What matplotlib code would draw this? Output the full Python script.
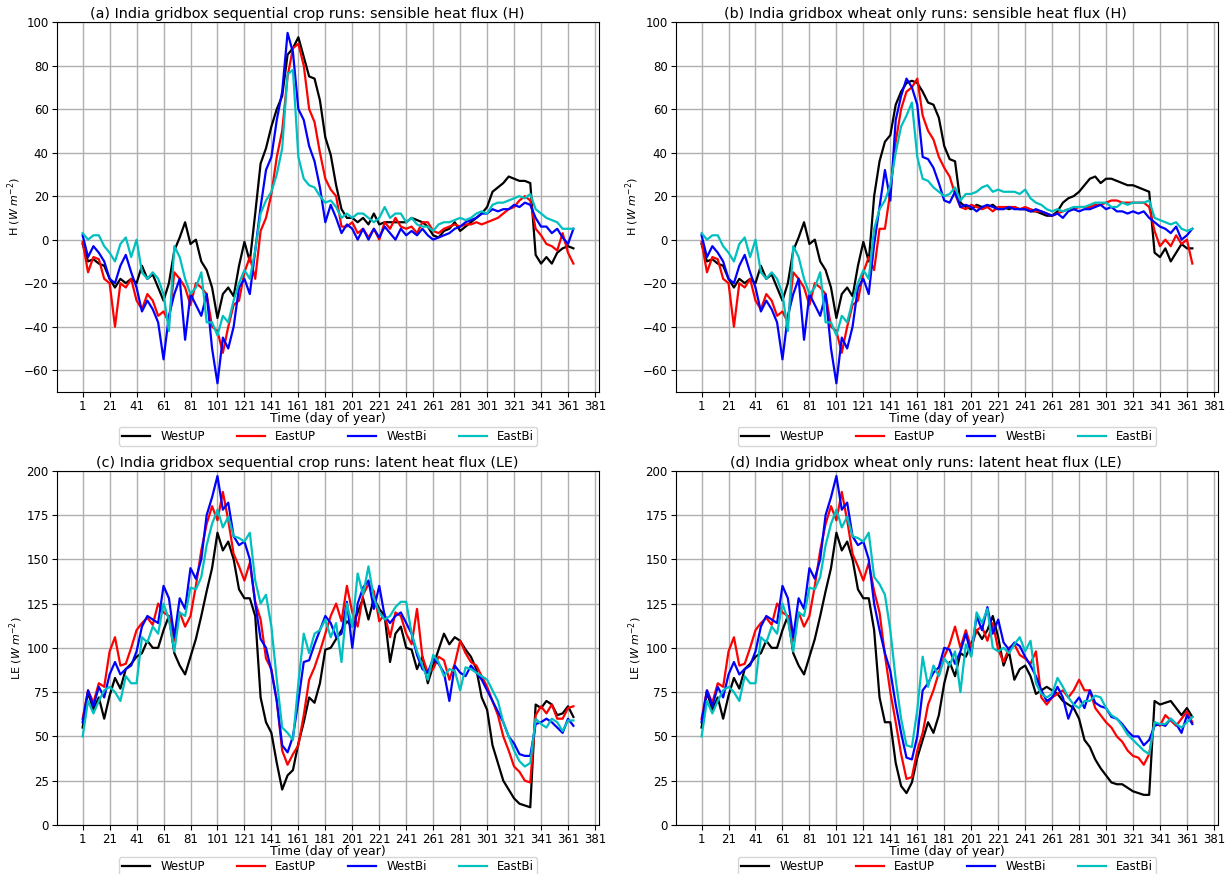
import numpy as np
import matplotlib.pyplot as plt

# Daily fluxes sampled every 4th day of the year (1, 5, ..., 365)
days = np.arange(1, 366, 4)
names = ['WestUP', 'EastUP', 'WestBi', 'EastBi']
colours = ['k', 'r', 'b', 'c']

# --- Sensible heat flux H (W m-2) ---
# days 1-125 are the same in both sets of runs
h_early_westup = [-2, -10, -9, -11, -12, -18, -22, -18, -20, -18, -20, -12, -18, -16, -22, -28,
                  -20, -5, 1, 8, -2, 0, -10, -14, -22, -36, -25, -22, -26, -12, -1, -10]
h_early_eastup = [-1, -15, -8, -9, -18, -20, -40, -20, -22, -18, -28, -32, -25, -28, -35, -33,
                  -38, -15, -18, -22, -30, -20, -22, -25, -40, -42, -52, -40, -30, -28, -15, -8]
h_early_westbi = [2, -8, -3, -6, -10, -18, -20, -12, -7, -15, -22, -33, -28, -32, -38, -55,
                  -35, -25, -18, -46, -25, -30, -35, -25, -50, -66, -45, -50, -40, -22, -18, -25]
h_early_eastbi = [3, 0, 2, 2, -3, -6, -10, -2, 1, -8, 0, -15, -18, -15, -18, -25,
                  -42, -3, -8, -18, -25, -22, -15, -38, -38, -44, -35, -38, -28, -20, -14, -18]

# days 129-365, sequential crop runs
h_seq_westup = [12, 35, 42, 52, 60, 66, 85, 88, 93, 84, 75, 74, 64, 47, 39, 25, 14, 10, 10, 8,
                10, 7, 12, 7, 8, 8, 8, 8, 8, 10, 9, 8, 6, 2, 1, 4, 5, 8, 4, 6,
                8, 10, 12, 15, 22, 24, 26, 29, 28, 27, 27, 26, -7, -11, -8, -11, -6, -4, -3, -4]
h_seq_eastup = [-18, 4, 10, 21, 38, 50, 75, 88, 90, 80, 60, 54, 40, 28, 23, 20, 6, 6, 8, 3,
                5, 1, 5, 0, 8, 5, 10, 6, 5, 6, 3, 8, 8, 4, 3, 5, 6, 7, 6, 7,
                7, 8, 7, 8, 9, 10, 12, 14, 15, 18, 20, 18, 5, 2, -2, -3, -5, 3, -6, -11]
h_seq_westbi = [-5, 15, 32, 38, 55, 68, 95, 86, 60, 55, 43, 36, 24, 8, 16, 10, 3, 7, 5, 0,
                5, 0, 5, 1, 6, 3, 0, 5, 2, 4, 2, 5, 2, 0, 1, 2, 3, 5, 6, 8,
                9, 10, 12, 12, 14, 13, 14, 14, 16, 15, 17, 16, 10, 6, 6, 3, 5, 1, -2, 5]
h_seq_eastbi = [-5, 12, 18, 22, 30, 42, 76, 78, 38, 28, 25, 24, 20, 17, 18, 15, 10, 12, 10, 12,
                12, 10, 8, 10, 15, 10, 12, 12, 8, 10, 7, 6, 6, 4, 7, 8, 8, 9, 10, 9,
                10, 12, 13, 12, 16, 17, 17, 18, 19, 20, 19, 21, 14, 12, 10, 9, 8, 5, 5, 5]

# days 129-365, wheat only runs
h_wht_westup = [20, 36, 45, 48, 62, 68, 72, 73, 72, 68, 63, 62, 56, 43, 37, 36, 17, 15, 14, 16,
                15, 15, 16, 14, 15, 14, 15, 14, 14, 13, 13, 12, 11, 11, 13, 17, 19, 20, 22, 25,
                28, 29, 26, 28, 28, 27, 26, 25, 25, 24, 23, 22, -6, -8, -4, -10, -6, -2, -4, -4]
h_wht_eastup = [-14, 5, 5, 22, 45, 60, 68, 70, 74, 57, 50, 46, 38, 33, 29, 21, 15, 14, 16, 15,
                14, 15, 13, 15, 15, 15, 15, 14, 15, 14, 13, 13, 12, 11, 12, 13, 14, 14, 15, 15,
                15, 16, 16, 17, 18, 18, 17, 17, 17, 17, 17, 15, 4, -3, 0, -3, 2, -2, 0, -11]
h_wht_westbi = [-2, 15, 32, 18, 55, 66, 74, 70, 62, 38, 37, 33, 26, 18, 17, 22, 15, 16, 15, 13,
                15, 16, 15, 14, 14, 15, 14, 14, 14, 13, 14, 13, 12, 11, 12, 10, 13, 14, 13, 14,
                14, 15, 16, 14, 15, 13, 13, 12, 13, 12, 13, 10, 8, 6, 5, 3, 6, 0, 2, 5]
h_wht_eastbi = [5, 14, 18, 25, 40, 52, 57, 63, 38, 28, 27, 24, 22, 20, 21, 24, 18, 21, 21, 22,
                24, 25, 22, 23, 22, 22, 22, 21, 23, 19, 17, 16, 14, 13, 14, 13, 14, 15, 15, 15,
                16, 17, 17, 17, 15, 15, 17, 16, 17, 17, 17, 18, 10, 9, 8, 7, 8, 5, 4, 5]

# --- Latent heat flux LE (W m-2) ---
le_early_westup = [55, 75, 65, 72, 60, 73, 83, 77, 88, 91, 95, 97, 104, 100, 100, 110,
                   118, 97, 90, 85, 95, 105, 118, 132, 145, 165, 155, 160, 150, 133, 128, 128]
le_early_eastup = [60, 76, 69, 80, 78, 98, 106, 90, 91, 100, 110, 114, 117, 113, 125, 120,
                   118, 104, 120, 112, 118, 135, 155, 170, 180, 172, 188, 172, 153, 146, 138, 148]
le_early_westbi = [58, 76, 67, 78, 72, 85, 92, 85, 88, 90, 98, 112, 118, 116, 114, 135,
                   128, 106, 128, 122, 145, 139, 150, 175, 185, 197, 178, 182, 163, 158, 160, 150]
le_early_eastbi = [50, 70, 63, 70, 76, 78, 75, 70, 84, 80, 80, 106, 103, 112, 108, 125,
                   116, 98, 120, 118, 134, 133, 140, 158, 170, 178, 168, 174, 163, 162, 160, 165]

le_seq_westup = [118, 72, 58, 52, 35, 20, 28, 31, 46, 58, 72, 69, 80, 99, 100, 105, 110, 115, 112, 120,
                 128, 116, 128, 122, 118, 92, 108, 112, 100, 99, 88, 95, 80, 90, 99, 108, 102, 106, 104, 99,
                 95, 88, 72, 65, 45, 35, 25, 20, 15, 12, 11, 10, 68, 66, 70, 68, 62, 63, 67, 61]
le_seq_eastup = [126, 116, 94, 88, 70, 42, 34, 40, 45, 62, 82, 89, 98, 108, 118, 125, 115, 135, 120, 112,
                 130, 136, 132, 115, 119, 106, 120, 118, 108, 102, 122, 95, 86, 88, 95, 93, 82, 91, 104, 97,
                 92, 90, 84, 78, 70, 62, 50, 42, 33, 30, 25, 24, 62, 67, 63, 68, 60, 60, 66, 67]
le_seq_westbi = [125, 105, 100, 87, 70, 45, 41, 50, 70, 92, 93, 102, 110, 118, 114, 106, 108, 126, 100, 125,
                 134, 138, 122, 135, 118, 114, 118, 120, 114, 108, 96, 88, 86, 94, 91, 86, 70, 90, 86, 84,
                 90, 86, 82, 76, 70, 64, 58, 50, 46, 40, 39, 39, 57, 58, 60, 58, 55, 52, 60, 56]
le_seq_eastbi = [138, 125, 130, 112, 82, 55, 52, 48, 80, 108, 97, 108, 110, 116, 106, 114, 92, 125, 112, 142,
                 130, 146, 128, 120, 116, 118, 123, 126, 126, 108, 98, 90, 82, 96, 92, 84, 88, 87, 76, 89,
                 88, 86, 84, 82, 76, 70, 58, 50, 42, 36, 33, 35, 60, 57, 55, 60, 58, 53, 59, 59]

le_wht_westup = [110, 72, 58, 58, 35, 22, 18, 24, 38, 48, 58, 52, 62, 80, 92, 84, 97, 95, 102, 110,
                 105, 110, 118, 106, 90, 98, 82, 88, 90, 84, 74, 76, 78, 76, 74, 70, 68, 66, 60, 48,
                 44, 37, 32, 28, 24, 23, 23, 21, 19, 18, 17, 17, 70, 68, 69, 70, 66, 62, 66, 61]
le_wht_eastup = [132, 120, 96, 75, 58, 40, 26, 27, 42, 52, 68, 76, 86, 95, 102, 112, 100, 110, 100, 110,
                 112, 104, 114, 99, 92, 100, 102, 96, 94, 91, 98, 72, 68, 72, 74, 76, 72, 76, 82, 76,
                 76, 66, 62, 58, 55, 50, 47, 42, 39, 38, 34, 40, 58, 56, 62, 59, 56, 60, 64, 58]
le_wht_westbi = [125, 110, 97, 87, 68, 52, 38, 37, 50, 76, 80, 86, 89, 100, 99, 91, 98, 108, 96, 118,
                 110, 123, 108, 116, 103, 99, 103, 101, 95, 90, 84, 76, 70, 72, 78, 72, 60, 68, 72, 66,
                 76, 69, 67, 66, 61, 60, 57, 53, 50, 50, 45, 48, 56, 57, 56, 60, 57, 52, 62, 57]
le_wht_eastbi = [140, 136, 130, 110, 82, 60, 45, 44, 65, 95, 78, 90, 84, 94, 90, 98, 75, 102, 95, 120,
                 114, 122, 100, 98, 100, 97, 102, 106, 98, 104, 80, 74, 72, 74, 83, 78, 72, 68, 66, 70,
                 70, 73, 72, 66, 62, 60, 56, 51, 48, 45, 42, 40, 58, 57, 57, 60, 57, 55, 58, 61]

h_early = [h_early_westup, h_early_eastup, h_early_westbi, h_early_eastbi]
le_early = [le_early_westup, le_early_eastup, le_early_westbi, le_early_eastbi]
h_seq = [h_seq_westup, h_seq_eastup, h_seq_westbi, h_seq_eastbi]
h_wht = [h_wht_westup, h_wht_eastup, h_wht_westbi, h_wht_eastbi]
le_seq = [le_seq_westup, le_seq_eastup, le_seq_westbi, le_seq_eastbi]
le_wht = [le_wht_westup, le_wht_eastup, le_wht_westbi, le_wht_eastbi]


# Join the shared start of the year with the run specific remainder
def join_runs(early, late):
    return [np.array(e + l, dtype=float) for e, l in zip(early, late)]


def plot_panel(ax, series, ylim, yticks, ylabel, title, legend_y):
    for values, name, col in zip(series, names, colours):
        ax.plot(days, values, color=col, lw=1.6, label=name)
    ax.set_xlim(-18, 384)
    ax.set_xticks(range(1, 382, 20))
    ax.set_ylim(ylim)
    ax.set_yticks(yticks)
    ax.tick_params(labelsize=8.5, pad=2.5)
    ax.grid(True, color='#b0b0b0', lw=1.0)
    ax.set_title(title, fontsize=10.4, pad=3, x=0.461)
    ax.set_xlabel('Time (day of year)', fontsize=9, labelpad=-1)
    ax.set_ylabel(ylabel, fontsize=8, labelpad=1)
    ax.legend(loc='upper center', bbox_to_anchor=(0.5, legend_y), ncol=4, fontsize=8.5,
              handlelength=2.4, handletextpad=0.85, columnspacing=2.7, borderpad=0.25,
              frameon=True)


fig = plt.figure(figsize=(12.29, 8.74), dpi=100)
ax_a = fig.add_axes([0.0464, 0.5515, 0.4410, 0.4233])
ax_b = fig.add_axes([0.5500, 0.5515, 0.4410, 0.4233])
ax_c = fig.add_axes([0.0464, 0.0561, 0.4410, 0.4053])
ax_d = fig.add_axes([0.5500, 0.0561, 0.4410, 0.4053])

h_label = r'H ($W\;m^{-2}$)'
le_label = r'LE ($W\;m^{-2}$)'

plot_panel(ax_a, join_runs(h_early, h_seq), (-70, 100), range(-60, 101, 20), h_label,
           '(a) India gridbox sequential crop runs: sensible heat flux (H)', -0.078)
plot_panel(ax_b, join_runs(h_early, h_wht), (-70, 100), range(-60, 101, 20), h_label,
           '(b) India gridbox wheat only runs: sensible heat flux (H)', -0.078)
plot_panel(ax_c, join_runs(le_early, le_seq), (0, 200), range(0, 201, 25), le_label,
           '(c) India gridbox sequential crop runs: latent heat flux (LE)', -0.075)
plot_panel(ax_d, join_runs(le_early, le_wht), (0, 200), range(0, 201, 25), le_label,
           '(d) India gridbox wheat only runs: latent heat flux (LE)', -0.075)

fig.savefig('out.png', dpi=100)
